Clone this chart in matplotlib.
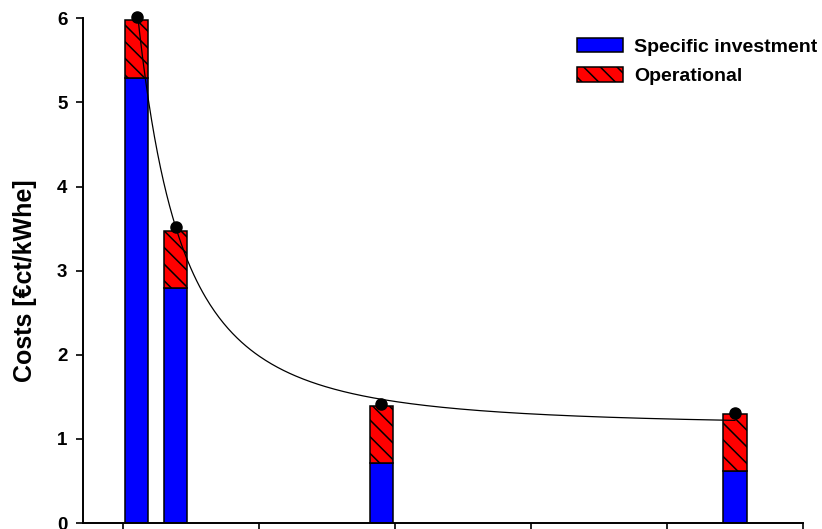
import numpy as np
import matplotlib
matplotlib.use("Agg")
import matplotlib.pyplot as plt
from matplotlib.font_manager import FontProperties

plt.rcParams['font.family'] = ['Liberation Sans', 'DejaVu Sans']
plt.rcParams['hatch.linewidth'] = 1.1

# ---- data ----
x_pos = [5.0, 19.3, 95.0, 225.0]
investment = [5.29, 2.79, 0.71, 0.62]
operational = [0.69, 0.68, 0.68, 0.68]
dot_values = [6.02, 3.52, 1.41, 1.31]
series_labels = ["Specific investment", "Operational"]
x_ticks = [0, 50, 100, 150, 200, 250]
y_ticks = [0, 1, 2, 3, 4, 5, 6]
y_label = "Costs [€ct/kWhe]"
# points
curve_u = [5.0, 9.3, 16.07, 18.75, 23.6, 29.8, 79.8, 116.5, 225.0]
curve_y = [6.02, 5.29, 3.845, 3.53, 2.99, 2.655, 1.62, 1.42, 1.21]

# ---- fit y = y0 + A*(u+b)^(-p) ----
cu = np.array(curve_u)
cy = np.array(curve_y)
best = None
for y0 in np.arange(0.5, 1.19, 0.01):
    for b in np.arange(0.0, 40.0, 0.25):
        X = np.log(cu + b)
        Y = np.log(cy - y0)
        slope, icpt = np.polyfit(X, Y, 1)
        pred = y0 + np.exp(icpt) * (cu + b) ** slope
        sse = np.sum((pred - cy) ** 2)
        if best is None or sse < best[0]:
            best = (sse, y0, b, slope, icpt)
_, fy0, fb, fslope, ficpt = best
uu = np.linspace(curve_u[0], curve_u[-1], 400)
yy = fy0 + np.exp(ficpt) * (uu + fb) ** fslope

# ---- figure ----
W, H = 822, 529
fig = plt.figure(figsize=(W / 100, H / 100), dpi=100)
ax = fig.add_axes([82.7 / W, 6 / H, (803 - 82.7) / W, (523 - 18.3) / H])

bw = 8.64
ax.bar(x_pos, investment, width=bw, color='#0000FF', edgecolor='black',
       linewidth=1.1, label=series_labels[0], zorder=2)
ax.bar(x_pos, operational, bottom=investment, width=bw, color='#FF0000',
       edgecolor='black', linewidth=1.1, hatch='\\\\', label=series_labels[1], zorder=2)
ax.plot(uu, yy, color='black', linewidth=0.9, zorder=3)
ax.plot(x_pos, dot_values, 'o', color='black', markersize=8, zorder=4, clip_on=False)

ax.set_xlim(-14.82, 250)
ax.set_ylim(0, 6)
ax.set_xticks(x_ticks)
ax.set_xticklabels([''] * len(x_ticks))
ax.set_yticks(y_ticks)
ax.set_yticklabels([str(v) for v in y_ticks], fontsize=13.5, fontweight='bold')
for s in ['top', 'right']:
    ax.spines[s].set_visible(False)
for s in ['left', 'bottom']:
    ax.spines[s].set_linewidth(1.4)
ax.tick_params(axis='both', direction='out', length=5, width=1.2, pad=6)

ax.set_ylabel(y_label, fontsize=18, fontweight='bold')
ax.yaxis.set_label_coords(-0.064, 0.48)

leg = fig.legend(loc='upper left', bbox_to_anchor=(576.7 / W, 1 - 38 / H),
                 frameon=False, borderpad=0, borderaxespad=0,
                 handlelength=2.36, handleheight=0.77, handletextpad=0.58,
                 labelspacing=0.58, prop=FontProperties(family='Liberation Sans', weight='bold', size=14))

fig.savefig('out.png', dpi=100)
